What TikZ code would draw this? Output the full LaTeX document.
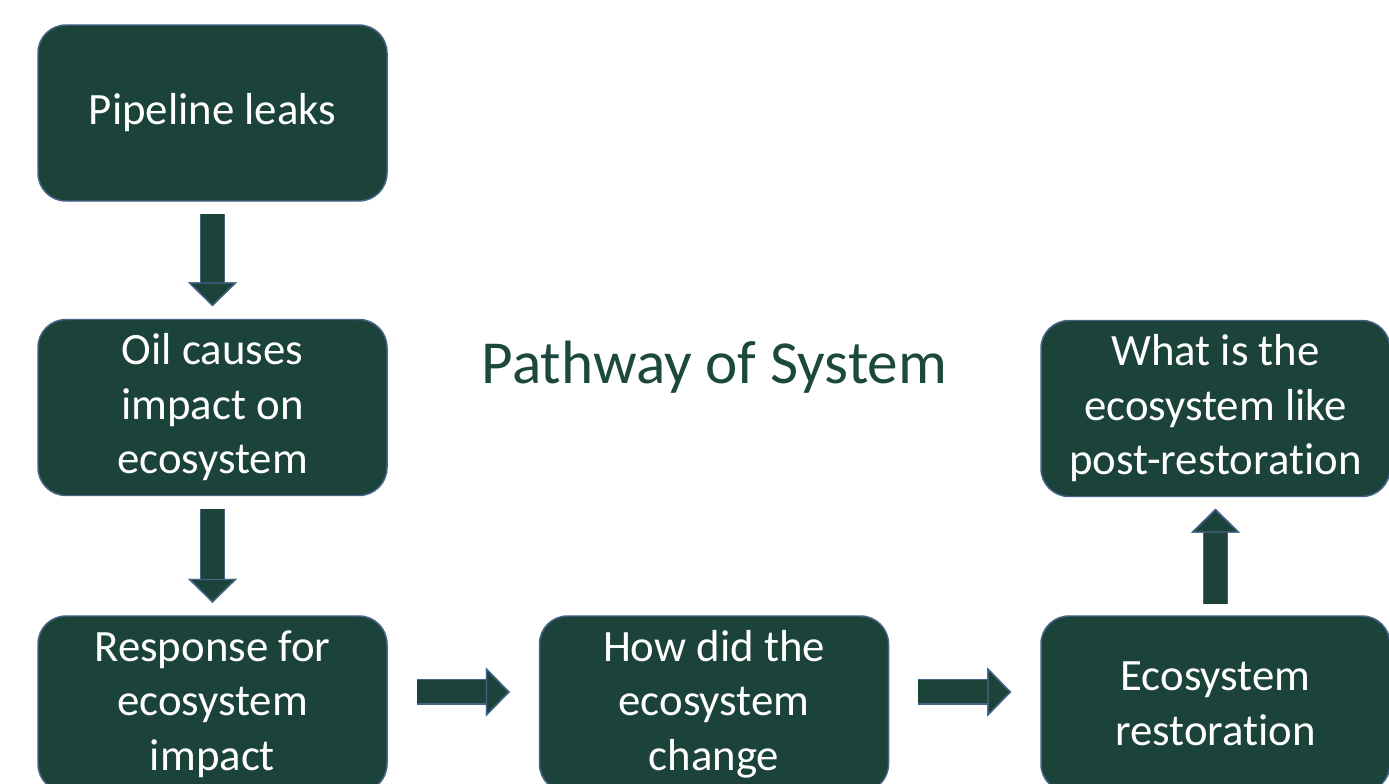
\documentclass[tikz,border=0pt]{standalone}
\usepackage{fontspec}
\setmainfont{Carlito}[Ligatures=NoCommon]
\usetikzlibrary{arrows.meta,positioning}
\definecolor{boxgreen}{RGB}{28,67,58}
\definecolor{boxedge}{RGB}{70,100,135}
\definecolor{titlegreen}{RGB}{28,72,62}

\begin{document}
\begin{tikzpicture}[
  stage/.style={draw=boxedge,line width=0.85pt,fill=boxgreen,rounded corners=0.56cm,
    minimum width=6.98cm,minimum height=3.52cm,inner sep=2pt,text=white,align=center,
    font=\fontsize{25.5}{31}\selectfont},
  flow/.style={draw=boxgreen,line width=0.46cm,shorten <=#1,shorten >=#1,
    -{Triangle[width=0.98cm,length=0.48cm,line width=0.8pt,fill=boxgreen,color=boxedge]},
    preaction={draw=boxedge,line width=0.51cm,
      -{Triangle[width=0.98cm,length=0.48cm,line width=0pt]}}},
  flow/.default=0.25cm]
\useasboundingbox (0,0) rectangle (27.78,15.66);
% left column
\node[stage] (pipe) at (4.25,13.40) {Pipeline leaks};
\node[stage,below=2.34cm of pipe] (oil) {Oil causes\\impact on\\ecosystem};
\node[stage,below=2.38cm of oil] (resp) {Response for\\ecosystem\\impact};
% bottom row
\node[stage,right=3.02cm of resp] (change) {How did the\\ecosystem\\change};
\node[stage,right=3.02cm of change] (resto) {Ecosystem\\restoration};
\node[stage,above=2.36cm of resto] (post) {What is the\\ecosystem like\\post-restoration};
% title
\node[text=titlegreen,font=\fontsize{34.8}{40}\selectfont] (ttl) at (14.29,8.32) {Pathway of System};
% block arrows
\draw[flow] (pipe) -- (oil);
\draw[flow] (oil) -- (resp);
\draw[flow=0.58cm] ([yshift=0.24cm]resp.east) -- ([yshift=0.24cm]change.west);
\draw[flow=0.58cm] ([yshift=0.24cm]change.east) -- ([yshift=0.24cm]resto.west);
\draw[flow=0.23cm] (resto) -- (post);
\end{tikzpicture}
\end{document}
